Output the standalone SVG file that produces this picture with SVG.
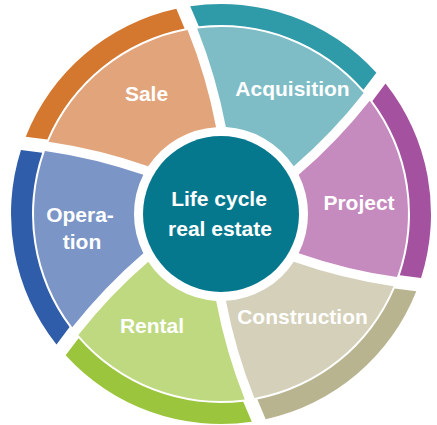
<svg xmlns="http://www.w3.org/2000/svg" xmlns:xlink="http://www.w3.org/1999/xlink" width="437" height="425" viewBox="0 0 437 425">
<style>
.lbl{font-family:"Liberation Sans",Arial,sans-serif;font-weight:bold;font-size:21px;fill:#ffffff;text-anchor:middle}
.ctr{font-size:21px}
</style>
<defs>
<path id="wedge" d="M81.4 30.75 Q132.7 36.84 184.05 33.08 A187 187 0 0 1 72.43 172.4 Q43.74 130.54 23.61 83.73 A87 87 0 0 0 81.4 30.75 Z"/>
<path id="band" d="M185.69 35.21 L207.37 33.12 A210 210 0 0 1 88.03 190.66 L75.67 173.18 A189 189 0 0 0 185.69 35.21 Z"/>
</defs>
<rect width="437" height="425" fill="#ffffff"/>
<g id="sale">
<use xlink:href="#band" href="#band" transform="translate(221 214) rotate(192.5)" fill="#D4772F"/>
<use xlink:href="#wedge" href="#wedge" transform="translate(221 214) rotate(192.5)" fill="#E2A47B"/>
<text class="lbl" x="146.5" y="101">Sale</text>
</g>
<g id="acquisition">
<use xlink:href="#band" href="#band" transform="translate(221 214) rotate(252.5)" fill="#2F9AA8"/>
<use xlink:href="#wedge" href="#wedge" transform="translate(221 214) rotate(252.5)" fill="#7EBCC6"/>
<text class="lbl" x="292.5" y="96">Acquisition</text>
</g>
<g id="project">
<use xlink:href="#band" href="#band" transform="translate(221 214) rotate(-47.5)" fill="#A4519F"/>
<use xlink:href="#wedge" href="#wedge" transform="translate(221 214) rotate(-47.5)" fill="#C58BBE"/>
<text class="lbl" x="359" y="210">Project</text>
</g>
<g id="construction">
<use xlink:href="#band" href="#band" transform="translate(221 214) rotate(12.5)" fill="#B9B490"/>
<use xlink:href="#wedge" href="#wedge" transform="translate(221 214) rotate(12.5)" fill="#D4D0B9"/>
<text class="lbl" x="302.5" y="324">Construction</text>
</g>
<g id="rental">
<use xlink:href="#band" href="#band" transform="translate(221 214) rotate(72.5)" fill="#9AC53C"/>
<use xlink:href="#wedge" href="#wedge" transform="translate(221 214) rotate(72.5)" fill="#BED97F"/>
<text class="lbl" x="152" y="333">Rental</text>
</g>
<g id="operation">
<use xlink:href="#band" href="#band" transform="translate(221 214) rotate(132.5)" fill="#2F5DA9"/>
<use xlink:href="#wedge" href="#wedge" transform="translate(221 214) rotate(132.5)" fill="#7B95C7"/>
<text class="lbl" x="80" y="222">Opera-</text>
<text class="lbl" x="82" y="249">tion</text>
</g>
<g id="center">
<circle cx="221" cy="214" r="78" fill="#06788E"/>
<text class="lbl ctr" x="219" y="206">Life cycle</text>
<text class="lbl ctr" x="220" y="236">real estate</text>
</g>
<g id="connectors"/>
</svg>
